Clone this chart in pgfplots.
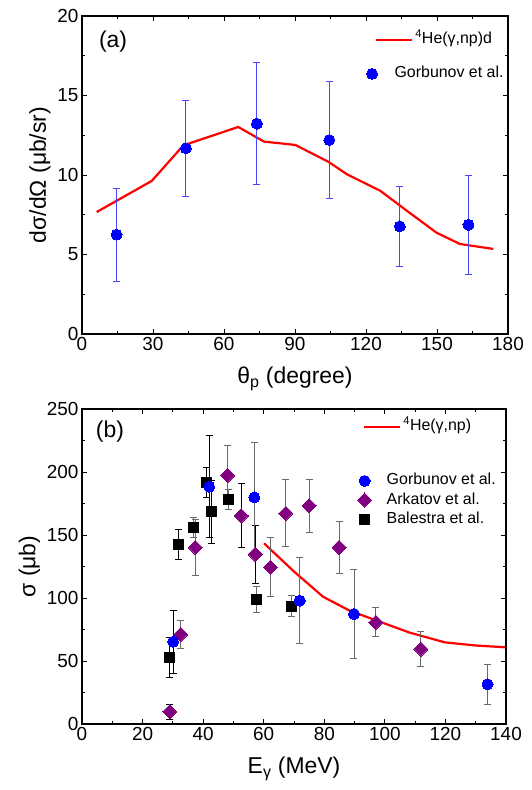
\documentclass[border=0pt]{standalone}
\usepackage{fontspec}
\setmainfont{Liberation Sans}
\usepackage{pgfplots}
\pgfplotsset{compat=1.18}

\definecolor{myblue}{RGB}{0,0,255}
\definecolor{ebblue}{RGB}{70,70,255}
\definecolor{mypurple}{RGB}{128,0,128}
\definecolor{ebgray}{RGB}{105,105,105}

\pgfplotsset{
  base/.style={
    scale only axis,
    axis line style={line width=1.2bp},
    every tick/.style={line width=0.9bp, black},
    major tick length=5bp, minor tick length=3bp,
    tick align=inside,
    minor x tick num=1, minor y tick num=1,
    ticklabel style={font=\fontsize{19}{19}\selectfont},
    /pgf/number format/assume math mode=true,
    label style={font=\fontsize{23}{23}\selectfont},
    xlabel style={yshift=-9bp},
    clip=false,
  },
  pa/.style={base, width=426bp, height=318bp, at={(82bp,456bp)}, anchor=south west,
    xmin=0, xmax=180, ymin=0, ymax=20, xtick={0,30,...,180}, ytick={0,5,...,20}},
  pb/.style={base, width=424bp, height=315bp, at={(82bp,66bp)}, anchor=south west,
    xmin=0, xmax=140, ymin=0, ymax=250, xtick={0,20,...,140}, ytick={0,50,...,250}},
  lineleg/.style={legend style={draw=none, fill=none, inner sep=0pt, outer sep=0pt,
    font=\fontsize{16}{16}\selectfont, column sep=2bp,
    nodes={inner sep=0pt, text height=11bp, text depth=3bp}},
    legend image code/.code={\draw[##1] (0bp,0bp) -- (36bp,0bp);}},
  markleg/.style={legend style={draw=none, fill=none, inner sep=0pt, outer sep=0pt,
    font=\fontsize{16}{16}\selectfont, row sep=5bp,
    nodes={inner sep=0pt, text height=11bp, text depth=3bp}},
    legend cell align=left,
    legend image code/.code={\draw[##1] plot coordinates {(0bp,0bp)};}},
  ebA/.style={error bars/.cd, y dir=both, y explicit,
    error bar style={ebblue, line width=0.8bp},
    error mark options={ebblue, line width=0.8bp, mark size=3.5bp, rotate=90}, /pgfplots/.cd},
  ebK/.style={error bars/.cd, y dir=both, y explicit,
    error bar style={black, line width=0.9bp},
    error mark options={black, line width=0.9bp, mark size=3.5bp, rotate=90}, /pgfplots/.cd},
  ebG/.style={error bars/.cd, y dir=both, y explicit,
    error bar style={ebgray, line width=0.9bp},
    error mark options={ebgray, line width=0.9bp, mark size=3.5bp, rotate=90}, /pgfplots/.cd},
  gorb/.style={only marks, mark=*, mark size=5.5bp, mark options={fill=myblue, draw=myblue, line width=0pt}},
  ark/.style={only marks, mark=square*, mark size=5bp, mark options={rotate=45, fill=mypurple, draw=mypurple, line width=0pt}},
  bal/.style={only marks, mark=square*, mark size=5bp, mark options={fill=black, draw=black, line width=0pt}},
}

\begin{document}
\begin{tikzpicture}
\useasboundingbox (0bp,0bp) rectangle (532bp,790bp);

% ---------------- Panel (a) ----------------
\begin{axis}[pa, hide axis, lineleg,
  legend style={at={(axis description cs:0.688,0.925)}, anchor=west}]
\addplot[red, line width=2.2bp] coordinates {
 (6.2,7.67) (29.5,9.63) (42.8,11.86) (66,13.02) (76.9,12.10) (90.1,11.89)
 (104,10.84) (112,10.04) (126,9.01) (138,7.67) (149.8,6.37) (159.7,5.66) (173.8,5.35)};
\addlegendentry{\textsuperscript{4}He(γ,np)d}
\end{axis}

\begin{axis}[pa, markleg,
  xlabel={θ\textsubscript{p} (degree)},
  ylabel={dσ/dΩ (μb/sr)},
  legend style={at={(axis description cs:0.668,0.818)}, anchor=west, column sep=17bp}]
\addplot[forget plot, gorb, ebA] coordinates {
 (14.6,6.25) +- (0,2.93)
 (43.9,11.68) +- (0,3.0)
 (73.9,13.23) +- (0,3.85)
 (104.5,12.2) +- (0,3.7)
 (134.3,6.77) +- (0,2.5)
 (163.3,6.87) +- (0,3.1)};
\addlegendimage{gorb}
\addlegendentry{Gorbunov et al.}
\node[font=\fontsize{23}{23}\selectfont] at (rel axis cs:0.073,0.918) {(a)};
\end{axis}

% ---------------- Panel (b) ----------------
\begin{axis}[pb, hide axis, lineleg,
  legend style={at={(axis description cs:0.663,0.943)}, anchor=west}]
\addplot[red, line width=2.2bp] coordinates {
 (60.1,143.4) (70,121) (79.6,101) (88.4,89.9) (98.3,81.2) (108.2,72.5)
 (119.8,64.8) (130,62.3) (139.6,60.9)};
\addlegendentry{\textsuperscript{4}He(γ,np)}
\end{axis}

\begin{axis}[pb, markleg,
  xlabel={E\textsubscript{γ} (MeV)},
  ylabel={σ (μb)},
  legend style={at={(axis description cs:0.650,0.711)}, anchor=west, column sep=15bp}]
% Balestra et al.
\addplot[forget plot, bal, ebK] coordinates {
 (28.8,52.6) +- (0,16)
 (32.0,142.6) +- (0,12)
 (41.1,191.8) +- (0,12)
 (42.8,168.3) +- (0,25)};
\addplot[forget plot, bal, ebG] coordinates {
 (36.7,156) +- (0,8)
 (48.5,178.3) +- (0,8)
 (57.6,98.9) +- (0,10)
 (69.3,93.5) +- (0,8.5)};
% Arkatov et al.
\addplot[forget plot, ark, ebK] coordinates {
 (29.0,9.8) +- (0,6)
 (52.6,165.3) +- (0,25.4)
 (57.2,134.7) +- (0,23)};
\addplot[forget plot, ark, ebG] coordinates {
 (32.6,71.1) +- (0,11)
 (37.4,140.2) +- (0,22)
 (48.1,197.4) +- (0,23.5)
 (62.2,124.4) +- (0,23.3)
 (67.3,167.2) +- (0,26.5)
 (75.0,173.3) +- (0,21)
 (84.9,140.2) +- (0,20.4)
 (97.0,80.7) +- (0,11.5)
 (111.9,59.5) +- (0,14)};
% Gorbunov et al.
\addplot[forget plot, gorb, ebK] coordinates {
 (30.1,65.3) +- (0,25)
 (42.0,188.3) +- (0,40.5)};
\addplot[forget plot, gorb, ebG] coordinates {
 (56.9,179.9) +- (0,43.5)
 (71.9,97.9) +- (0,34)
 (89.8,87.3) +- (0,35)
 (133.9,31.5) +- (0,16)};
\addlegendimage{gorb}
\addlegendentry{Gorbunov et al.}
\addlegendimage{ark}
\addlegendentry{Arkatov et al.}
\addlegendimage{bal}
\addlegendentry{Balestra et al.}
\node[font=\fontsize{23}{23}\selectfont] at (rel axis cs:0.066,0.927) {(b)};
\end{axis}
\end{tikzpicture}
\end{document}
